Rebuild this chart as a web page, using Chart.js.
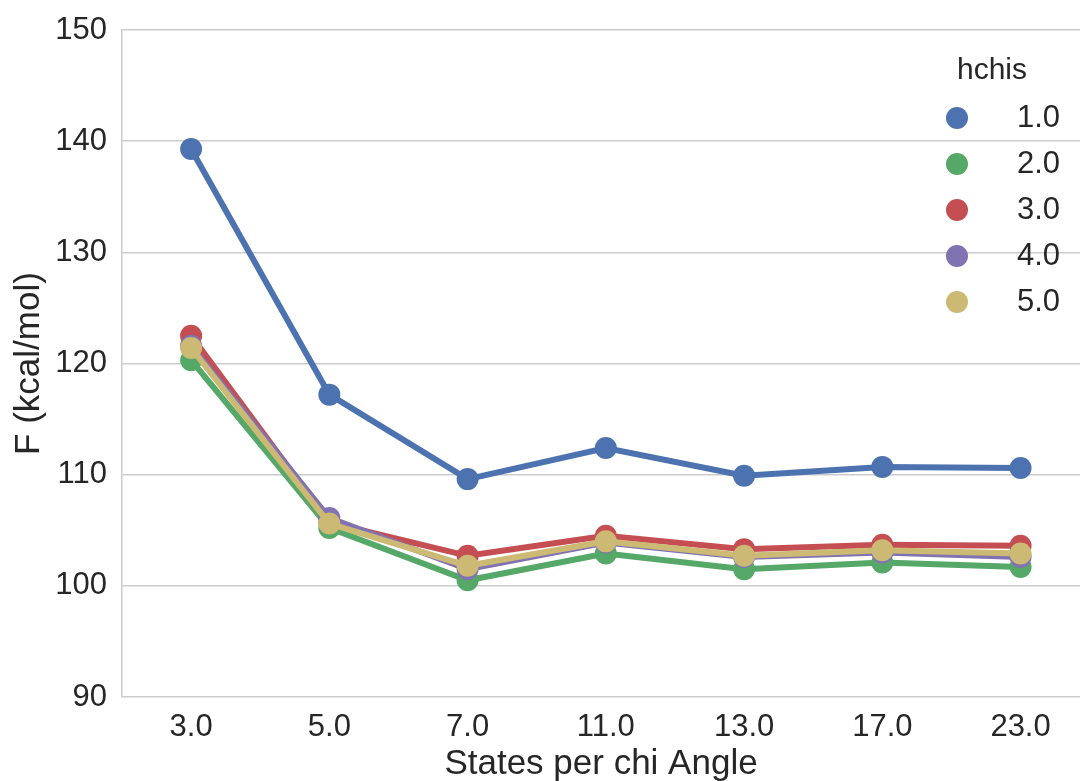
<!DOCTYPE html>
<html>
<head>
<meta charset="utf-8">
<script src="https://cdn.jsdelivr.net/npm/chart.js@4/dist/chart.umd.min.js"></script>
<style>
  html, body { margin: 0; padding: 0; background: #fff; }
  #wrap { width: 1081px; height: 781px; }
</style>
</head>
<body>
<div id="wrap"><canvas id="chart" width="1081" height="781"></canvas></div>
<script>
const categories = ["3.0", "5.0", "7.0", "11.0", "13.0", "17.0", "23.0"];
const hchisLabels = ["1.0", "2.0", "3.0", "4.0", "5.0"];
const hchis1 = [139.3, 117.2, 109.6, 112.4, 109.9, 110.7, 110.6];
const hchis2 = [120.3, 105.2, 100.5, 102.9, 101.5, 102.1, 101.7];
const hchis3 = [122.5, 105.7, 102.7, 104.5, 103.3, 103.7, 103.6];
const hchis4 = [121.6, 106.1, 101.5, 103.9, 102.6, 103.0, 102.6];
const hchis5 = [121.4, 105.6, 101.8, 104.0, 102.7, 103.2, 102.9];
const yTicks = [90, 100, 110, 120, 130, 140, 150];
const legendTitle = "hchis";

const colors = ["#4C72B0", "#55A868", "#C44E52", "#8172B2", "#CCB974"];
const series = [hchis1, hchis2, hchis3, hchis4, hchis5];
const FONT = "'Liberation Sans', Arial, Helvetica, sans-serif";
const TEXT = "#262626";

// seaborn-style legend inside the plot, top right
const insideLegend = {
  id: "insideLegend",
  afterDraw(chart) {
    const ctx = chart.ctx;
    const area = chart.chartArea;
    const w = chart.width;
    ctx.save();
    ctx.fillStyle = TEXT;
    ctx.font = `30px ${FONT}`;
    ctx.textAlign = "center";
    ctx.textBaseline = "middle";
    ctx.fillText(legendTitle, w - 89, area.top + 41);
    chart.data.datasets.forEach((ds, i) => {
      const y = area.top + 88 + i * 46;
      ctx.beginPath();
      ctx.arc(w - 124, y, 11, 0, Math.PI * 2);
      ctx.fillStyle = ds.backgroundColor;
      ctx.fill();
      ctx.fillStyle = TEXT;
      ctx.font = `31px ${FONT}`;
      ctx.textAlign = "right";
      ctx.fillText(ds.label, w - 21, y);
    });
    ctx.restore();
  },
};

new Chart(document.getElementById("chart"), {
  type: "line",
  data: {
    datasets: series.map((vals, i) => ({
      label: hchisLabels[i],
      // categories sit at positions 0..6 on the x axis
      data: vals.map((v, j) => ({ x: j, y: v })),
      borderColor: colors[i],
      backgroundColor: colors[i],
      pointBackgroundColor: colors[i],
      borderWidth: 6,
      pointRadius: 11,
      pointBorderWidth: 0,
      tension: 0,
      fill: false,
      order: series.length - i,
    })),
  },
  options: {
    responsive: false,
    animation: false,
    layout: { autoPadding: false, padding: { top: 30, right: 1, left: 0, bottom: 0 } },
    plugins: {
      legend: { display: false },
      tooltip: { enabled: false },
    },
    scales: {
      x: {
        type: "linear",
        min: -0.5,
        max: 6.43,
        afterBuildTicks(scale) { scale.ticks = categories.map((c, j) => ({ value: j })); },
        grid: { display: false },
        border: { display: false },
        ticks: {
          color: TEXT,
          font: { family: FONT, size: 31 },
          padding: 4,
          callback: (v) => categories[v],
        },
        title: {
          display: true,
          text: "States per chi Angle",
          color: TEXT,
          font: { family: FONT, size: 35 },
          padding: { top: 0, bottom: -4 },
        },
        afterFit(scale) {
          scale.height = 84;
          scale.paddingLeft = 0;
          scale.paddingRight = 0;
        },
      },
      y: {
        min: 90,
        max: 150,
        afterBuildTicks(scale) { scale.ticks = yTicks.map((v) => ({ value: v })); },
        grid: { color: "#cccccc", lineWidth: 1.5, drawTicks: false },
        border: { display: true, color: "#cccccc", width: 1.5 },
        ticks: { color: TEXT, font: { family: FONT, size: 31 }, padding: 15 },
        title: {
          display: true,
          text: "F (kcal/mol)",
          color: TEXT,
          font: { family: FONT, size: 35 },
          padding: { top: 8, bottom: 0 },
        },
        afterFit(scale) {
          scale.width = 122;
          scale.paddingTop = 0;
          scale.paddingBottom = 0;
        },
      },
    },
  },
  plugins: [insideLegend],
});
</script>
</body>
</html>
